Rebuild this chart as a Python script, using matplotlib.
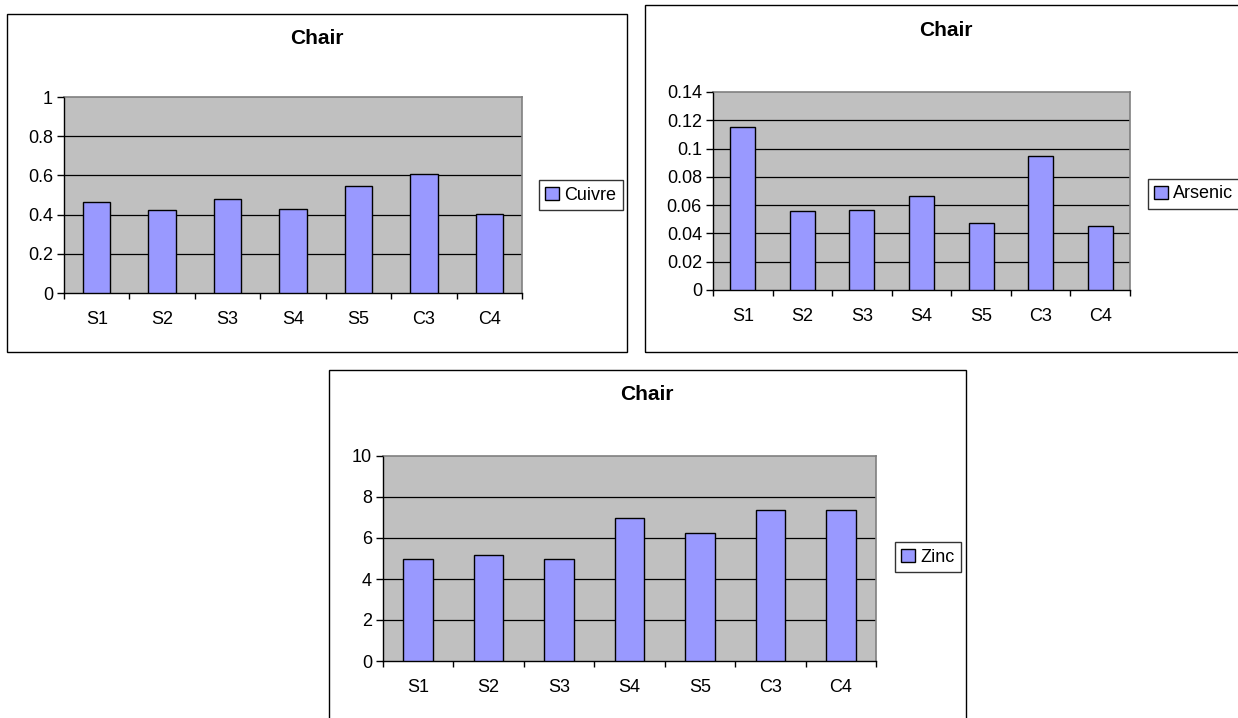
"""
Three Excel-style bar charts of metal content in flesh ("Chair") per site.
"""
import numpy as np
import matplotlib
matplotlib.use("Agg")
import matplotlib.pyplot as plt
from matplotlib.patches import Rectangle
from matplotlib.ticker import FuncFormatter

categories = ["S1", "S2", "S3", "S4", "S5", "C3", "C4"]
cuivre = [0.464, 0.421, 0.479, 0.428, 0.548, 0.606, 0.404]
arsenic = [0.115, 0.0558, 0.0567, 0.0666, 0.0475, 0.0951, 0.0449]
zinc = [4.99, 5.15, 4.99, 6.97, 6.24, 7.37, 7.37]

W, H = 1238, 718
BAR = "#9999FF"
PLOT_BG = "#C0C0C0"


def fig_box(x0, y0, x1, y1):
    # pixel box (top-left origin) -> figure fraction [l, b, w, h]
    return [x0 / W, 1 - y1 / H, (x1 - x0) / W, (y1 - y0) / H]


def panel(fig, frame, plot, title_xy, legend_xy, values, label, ymax, ystep):
    fx0, fy0, fx1, fy1 = frame
    fig.patches.append(Rectangle((fx0 / W, 1 - fy1 / H), (fx1 - fx0) / W, (fy1 - fy0) / H,
                                 transform=fig.transFigure, fill=False,
                                 edgecolor="black", linewidth=1.0, zorder=0))

    ax = fig.add_axes(fig_box(*plot))
    ax.set_facecolor(PLOT_BG)
    x = np.arange(len(categories))
    ax.bar(x, values, width=0.42, color=BAR, edgecolor="black", linewidth=1.0,
           label=label, zorder=3)

    ax.set_xlim(-0.5, len(categories) - 0.5)
    ax.set_ylim(0, ymax)
    yt = np.arange(0, ymax + ystep / 2, ystep)
    ax.set_yticks(yt)
    ax.yaxis.set_major_formatter(FuncFormatter(lambda v, p: f"{v:g}"))
    for v in yt[1:-1]:
        ax.axhline(v, color="black", linewidth=0.9, zorder=1)

    ax.set_xticks(x)
    ax.set_xticklabels(categories)
    ax.set_xticks(np.arange(-0.5, len(categories)), minor=True)
    ax.tick_params(axis="x", which="major", length=0, pad=13, labelsize=13)
    ax.tick_params(axis="x", which="minor", length=4, width=1, direction="out")
    ax.tick_params(axis="y", length=5, width=1, direction="out", pad=3, labelsize=13)

    for side in ("top", "right"):
        ax.spines[side].set_color("#808080")
        ax.spines[side].set_linewidth(1.2)
    for side in ("left", "bottom"):
        ax.spines[side].set_color("black")
        ax.spines[side].set_linewidth(1.0)

    fig.text(title_xy[0] / W, 1 - title_xy[1] / H, "Chair", ha="center", va="center",
             fontsize=15, fontweight="bold")

    leg = ax.legend(loc="center left", bbox_to_anchor=(legend_xy[0] / W, 1 - legend_xy[1] / H),
                    bbox_transform=fig.transFigure, fancybox=False, frameon=True,
                    edgecolor="black", fontsize=13, handlelength=0.75, handleheight=0.75,
                    handletextpad=0.3, borderpad=0.35, borderaxespad=0)
    leg.get_frame().set_linewidth(1.0)
    return ax


def main():
    plt.rcParams.update({
        "font.family": ["Liberation Sans", "DejaVu Sans"],
        "axes.axisbelow": False,
    })
    fig = plt.figure(figsize=(W / 100, H / 100), dpi=100)

    panel(fig, (7, 14, 627, 352), (64, 97, 522, 293), (317, 38), (539, 195),
          cuivre, "Cuivre", 1.0, 0.2)
    panel(fig, (645, 5, 1250, 352), (713, 92, 1130, 290), (946, 31), (1148, 194),
          arsenic, "Arsenic", 0.14, 0.02)
    panel(fig, (329, 370, 966, 730), (383, 456, 876, 661), (647, 394), (895, 557),
          zinc, "Zinc", 10, 2)

    fig.savefig("out.png", dpi=100)
    plt.close(fig)


if __name__ == "__main__":
    main()
